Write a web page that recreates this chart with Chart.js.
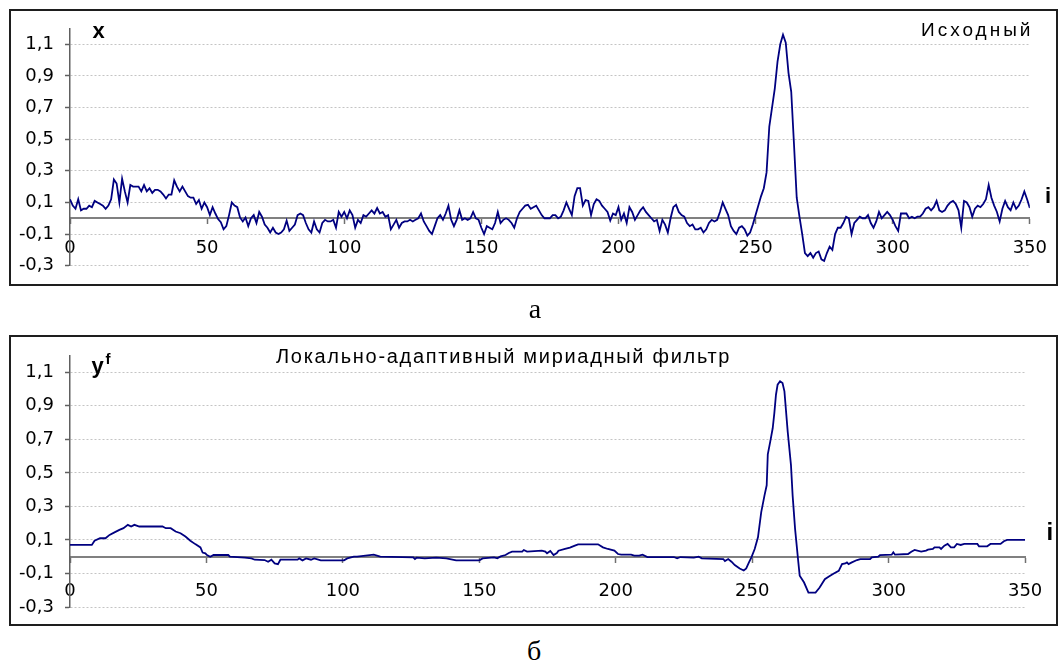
<!DOCTYPE html>
<html>
<head>
<meta charset="utf-8">
<script src="https://cdn.jsdelivr.net/npm/chart.js@4.4.1/dist/chart.umd.min.js"></script>
<style>
  html, body { margin:0; padding:0; background:#fff; }
  body { width:1061px; height:661px; position:relative; overflow:hidden; }
  .frame { position:absolute; border:2px solid #1e1e1e; box-sizing:content-box; }
  .cv { position:absolute; left:0; display:block; }
  .lbl { position:absolute; white-space:nowrap; line-height:1; color:#000; }
  .sans { font-family:"Liberation Sans", Arial, sans-serif; }
  .serif { font-family:"Liberation Serif", "Times New Roman", serif; }
</style>
</head>
<body>
<div class="frame" style="left:9px;top:9px;width:1045px;height:273px;"></div>
<div class="frame" style="left:9px;top:335px;width:1045px;height:287px;"></div>
<canvas id="c1" class="cv" width="1061" height="300" style="top:0px;"></canvas>
<canvas id="c2" class="cv" width="1061" height="310" style="top:320px;"></canvas>

<div class="lbl sans" style="left:92.5px;top:19.7px;font-size:22px;font-weight:bold;">x</div>
<div class="lbl sans" style="left:921px;top:20px;font-size:19px;letter-spacing:3px;">Исходный</div>
<div class="lbl sans" style="left:1045px;top:184.7px;font-size:22px;font-weight:bold;">i</div>
<div class="lbl serif" style="left:485px;top:295px;width:100px;text-align:center;font-size:28px;">а</div>

<div class="lbl sans" style="left:91.5px;top:355px;font-size:22px;font-weight:bold;">y</div>
<div class="lbl sans" style="left:105.5px;top:350.6px;font-size:15px;font-weight:bold;">f</div>
<div class="lbl sans" style="left:276px;top:346.4px;font-size:20px;letter-spacing:1.7px;">Локально-адаптивный мириадный фильтр</div>
<div class="lbl sans" style="left:1046.5px;top:519.7px;font-size:24px;font-weight:bold;">i</div>
<div class="lbl serif" style="left:484px;top:636.6px;width:100px;text-align:center;font-size:28px;">б</div>

<script>
// ---- axis ticks ----
const yTicks = [-0.3, -0.1, 0.1, 0.3, 0.5, 0.7, 0.9, 1.1];
const xTicks = [0, 50, 100, 150, 200, 250, 300, 350];

// ---- series a: original signal x(i), i = 0..350 ----
const signalX = [
  0.12, 0.08, 0.06, 0.12, 0.05, 0.06, 0.06, 0.08, 0.07, 0.11,
  0.10, 0.09, 0.08, 0.06, 0.08, 0.12, 0.245, 0.22, 0.10, 0.25,
  0.17, 0.10, 0.21, 0.20, 0.20, 0.20, 0.17, 0.21, 0.17, 0.19,
  0.16, 0.18, 0.18, 0.17, 0.15, 0.125, 0.15, 0.15, 0.24, 0.20,
  0.17, 0.20, 0.17, 0.14, 0.13, 0.13, 0.09, 0.115, 0.06, 0.10,
  0.07, 0.02, 0.07, 0.03, -0.005, -0.025, -0.07, -0.05, 0.02, 0.10,
  0.08, 0.07, 0.005, -0.02, 0.005, -0.05, 0.00, 0.02, -0.03, 0.04,
  0.01, -0.04, -0.06, -0.09, -0.06, -0.09, -0.10, -0.09, -0.07, -0.015,
  -0.08, -0.06, -0.04, 0.02, 0.03, 0.02, -0.03, -0.07, -0.09, -0.02,
  -0.07, -0.09, -0.03, -0.01, -0.02, -0.02, -0.01, -0.06, 0.04, 0.01,
  0.04, 0.00, 0.05, 0.02, -0.06, -0.01, -0.03, 0.02, 0.01, 0.03,
  0.05, 0.03, 0.065, 0.03, 0.04, 0.01, 0.02, -0.07, -0.04, -0.01,
  -0.06, -0.03, -0.02, -0.02, -0.01, -0.02, -0.01, 0.00, 0.03, -0.02,
  -0.05, -0.08, -0.10, -0.05, 0.00, 0.02, -0.01, 0.03, 0.08, -0.01,
  -0.05, -0.01, 0.05, -0.01, 0.00, -0.01, 0.00, 0.04, 0.00, -0.01,
  -0.06, -0.10, -0.05, -0.06, -0.07, -0.03, 0.04, -0.03, -0.01, 0.00,
  -0.01, -0.03, -0.06, 0.00, 0.04, 0.06, 0.08, 0.085, 0.06, 0.07,
  0.08, 0.05, 0.02, 0.00, 0.00, 0.00, 0.02, 0.02, 0.00, 0.01,
  0.05, 0.10, 0.06, 0.02, 0.14, 0.19, 0.19, 0.08, 0.115, 0.11,
  0.02, 0.09, 0.12, 0.11, 0.08, 0.06, 0.04, -0.015, 0.03, 0.02,
  0.07, -0.01, 0.03, -0.03, 0.07, 0.04, -0.01, 0.02, 0.05, 0.07,
  0.04, 0.02, 0.00, -0.02, -0.01, -0.08, -0.01, -0.04, -0.09, 0.00,
  0.07, 0.085, 0.04, 0.02, 0.01, -0.03, -0.05, -0.04, -0.07, -0.07,
  -0.06, -0.09, -0.07, -0.03, -0.01, -0.02, -0.01, 0.04, 0.10, 0.06,
  0.02, -0.05, -0.08, -0.10, -0.06, -0.05, -0.07, -0.11, -0.09, -0.04,
  0.02, 0.08, 0.14, 0.19, 0.29, 0.58, 0.70, 0.82, 0.99, 1.10,
  1.16, 1.11, 0.92, 0.80, 0.47, 0.13, 0.01, -0.10, -0.22, -0.24,
  -0.22, -0.25, -0.22, -0.21, -0.26, -0.27, -0.22, -0.18, -0.20, -0.10,
  -0.06, -0.06, -0.03, 0.01, 0.00, -0.10, -0.03, -0.01, 0.01, 0.00,
  0.00, 0.02, -0.03, -0.06, -0.02, 0.04, 0.00, 0.02, 0.04, 0.02,
  -0.01, -0.05, -0.08, 0.03, 0.03, 0.03, 0.00, 0.01, 0.00, 0.01,
  0.01, 0.03, 0.06, 0.07, 0.05, 0.07, 0.11, 0.05, 0.04, 0.05,
  0.08, 0.10, 0.11, 0.09, 0.05, -0.06, 0.11, 0.10, 0.07, 0.01,
  0.06, 0.08, 0.07, 0.09, 0.12, 0.21, 0.13, 0.08, 0.04, -0.02,
  0.06, 0.11, 0.07, 0.05, 0.10, 0.06, 0.08, 0.12, 0.17, 0.12,
  0.065
];

// ---- series б: locally adaptive myriad filter output y^f (vertices) ----
const filtIdx = [
  0, 8, 9, 11, 13, 14.5, 16.3, 18.1, 19.6, 21.2, 22.4, 23.6, 25.4, 33.9, 35.1, 36.9, 38.7, 40.5, 42.3, 44.1,
  45.9, 47.8, 48.6, 49.6, 50.2, 51.4, 52.6, 58, 58.6, 64.1, 66.5, 67.7, 71.3, 72.6, 73.8, 75, 76.2, 77.1, 83.4, 84,
  85.2, 86.5, 88.3, 89.5, 91.9, 100.4, 101.6, 104, 105.2, 111.3, 113.7, 125.8, 126.4, 127, 130, 134.2, 137.9, 141.5, 150, 151.2,
  155.4, 156.6, 157.8, 159.6, 160.8, 162, 165.7, 166.3, 167.5, 172.9, 174.2, 174.8, 176, 177.2, 178.4, 179, 181.4, 183.2, 185, 186.2,
  193.5, 195.3, 197.1, 199.5, 200.8, 202, 205.6, 206.8, 208.6, 209.8, 211.6, 221.3, 222.5, 223.7, 228.6, 230.4, 231.5, 239.4, 240, 241.2,
  242.4, 243.6, 245.4, 246.9, 247.8, 248.8, 249.7, 250.9, 252.1, 253.3, 254.5, 255.3, 255.7, 256.6, 257.5, 258.1, 258.7, 259.3, 260.2, 261.1,
  261.8, 263, 264.2, 264.8, 265.7, 266.9, 267.4, 269, 270.6, 273.2, 274.7, 276.6, 278.1, 279.9, 281.7, 282.9, 284.1, 284.7, 285.3, 286.5,
  288.4, 289.6, 293.2, 293.8, 296.2, 296.8, 301.1, 301.7, 302.3, 307.1, 308.3, 309.5, 311.9, 313.7, 314.4, 316.2, 316.8, 318.6, 319.2, 320.4,
  321.6, 322.8, 324, 325, 326.4, 327.7, 332.5, 333.1, 336.1, 337.3, 341, 342.2, 343.4, 350
];
const filtVal = [
  0.07, 0.07, 0.095, 0.11, 0.11, 0.13, 0.145, 0.16, 0.17, 0.19, 0.18, 0.19, 0.18, 0.18, 0.17, 0.17, 0.15, 0.14, 0.12, 0.095,
  0.075, 0.055, 0.025, 0.02, 0.01, 0.0, 0.01, 0.01, 0.0, -0.006, -0.01, -0.018, -0.02, -0.03, -0.018, -0.04, -0.045, -0.018, -0.018, -0.01,
  -0.022, -0.01, -0.018, -0.01, -0.022, -0.022, -0.01, 0.0, 0.0, 0.012, 0.0, -0.004, -0.014, -0.006, -0.01, -0.006, -0.01, -0.022, -0.022, -0.01,
  -0.004, -0.01, 0.002, 0.01, 0.022, 0.03, 0.03, 0.04, 0.03, 0.036, 0.03, 0.02, 0.034, 0.01, 0.022, 0.036, 0.046, 0.054, 0.066, 0.074,
  0.074, 0.056, 0.046, 0.036, 0.016, 0.012, 0.012, 0.006, 0.006, 0.012, -0.002, -0.002, -0.01, -0.002, -0.006, 0.0, -0.01, -0.014, -0.026, -0.014,
  -0.03, -0.05, -0.07, -0.082, -0.07, -0.034, -0.004, 0.046, 0.116, 0.266, 0.366, 0.426, 0.61, 0.686, 0.766, 0.856, 0.966, 1.026, 1.046, 1.036,
  0.986, 0.746, 0.546, 0.366, 0.166, -0.034, -0.114, -0.154, -0.214, -0.214, -0.184, -0.134, -0.118, -0.1, -0.084, -0.044, -0.04, -0.034, -0.044, -0.034,
  -0.02, -0.014, -0.014, -0.004, 0.0, 0.01, 0.012, 0.026, 0.012, 0.016, 0.03, 0.04, 0.03, 0.036, 0.042, 0.046, 0.056, 0.056, 0.046, 0.066,
  0.076, 0.056, 0.056, 0.076, 0.07, 0.076, 0.076, 0.062, 0.062, 0.076, 0.076, 0.092, 0.1, 0.1
];

const FONT_TICK = { family: 'DejaVu Sans', size: 18 };

function buildChart(canvasId, points, pad, xLabelPad) {
  return new Chart(document.getElementById(canvasId), {
    type: 'line',
    data: {
      datasets: [{
        data: points,
        borderColor: '#000080',
        borderWidth: 1.8,
        pointRadius: 0,
        pointHoverRadius: 0,
        tension: 0,
        fill: false
      }]
    },
    options: {
      responsive: false,
      animation: false,
      events: [],
      layout: { padding: pad, autoPadding: false },
      plugins: { legend: { display: false }, tooltip: { enabled: false }, title: { display: false } },
      scales: {
        x: {
          type: 'linear',
          min: 0, max: 350,
          position: { y: 0 },
          afterBuildTicks: s => { s.ticks = xTicks.map(v => ({ value: v })); },
          grid: { display: true, drawOnChartArea: false, drawTicks: true, tickLength: 5,
                  tickColor: '#707070', tickWidth: 1.5 },
          border: { display: true, color: '#808080', width: 2 },
          ticks: { font: FONT_TICK, color: '#000', padding: xLabelPad, maxRotation: 0, autoSkip: false }
        },
        y: {
          type: 'linear',
          min: -0.3, max: 1.2,
          afterBuildTicks: s => { s.ticks = yTicks.map(v => ({ value: v })); },
          afterFit: s => { s.width = 70; },
          grid: { color: '#c4c4c4', lineWidth: 1, drawTicks: true, tickLength: 5,
                  tickColor: '#606060', tickWidth: 1.5, tickBorderDash: [] },
          border: { display: true, color: '#606060', width: 1.5, dash: [2, 2] },
          ticks: { font: FONT_TICK, color: '#000', padding: 11, autoSkip: false,
                   callback: v => Number(v).toFixed(1).replace('.', ',') }
        }
      }
    }
  });
}

const ptsA = signalX.map((v, i) => ({ x: i, y: v }));
const ptsB = filtIdx.map((ix, k) => ({ x: ix, y: filtVal[k] }));

buildChart('c1', ptsA, { left: 0, right: 26, top: 28.5, bottom: 34.3 }, 14);
buildChart('c2', ptsB, { left: 0, right: 24, top: 35.5, bottom: 23 }, 18.7);
</script>
</body>
</html>
